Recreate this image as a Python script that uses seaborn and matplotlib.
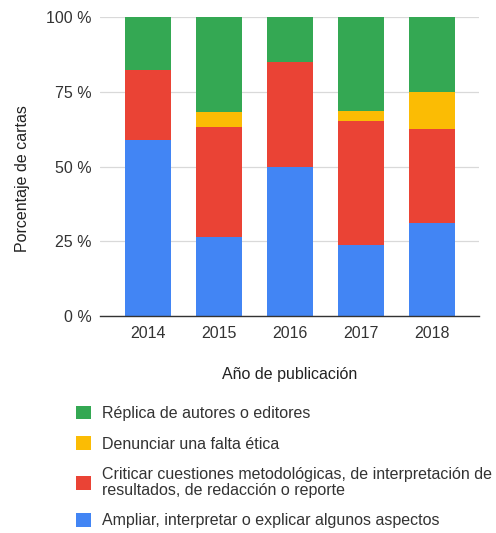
import numpy as np
import pandas as pd
import matplotlib
matplotlib.use("Agg")
import matplotlib.pyplot as plt
from matplotlib.patches import Patch
import seaborn as sns

years = ["2014", "2015", "2016", "2017", "2018"]
ampliar = [58.8, 26.3, 50.0, 23.7, 31.25]
criticar = [23.6, 36.8, 35.0, 41.6, 31.25]
denunciar = [0.0, 5.3, 0.0, 3.4, 12.5]
replica = [17.6, 31.6, 15.0, 31.3, 25.0]

series_names = [
    "Ampliar, interpretar o explicar algunos aspectos",
    "Criticar cuestiones metodológicas, de interpretación de\nresultados, de redacción o reporte",
    "Denunciar una falta ética",
    "Réplica de autores o editores",
]
colors = ["#4285F4", "#EA4335", "#FBBC04", "#34A853"]

sns.set_theme(style="white")
plt.rcParams["font.family"] = ["Liberation Sans", "DejaVu Sans"]
fs = 11.5

df = pd.DataFrame({
    "year": years,
    "ampliar": ampliar,
    "criticar": criticar,
    "denunciar": denunciar,
    "replica": replica,
})
cols = ["ampliar", "criticar", "denunciar", "replica"]
cum = df[cols].cumsum(axis=1)

fig = plt.figure(figsize=(4.96, 5.33), dpi=100)
ax = fig.add_axes([0.2016, 0.4071, 0.7641, 0.5609])

# draw cumulative totals from the top down so each layer shows through
for col, color in reversed(list(zip(cols, colors))):
    sns.barplot(x=df["year"], y=cum[col], color=color, width=0.65,
                saturation=1, linewidth=0, edgecolor="none", ax=ax, zorder=2)

ax.set_ylim(0, 100)
ax.set_xlim(-0.68, 4.66)
ax.set_yticks([0, 25, 50, 75, 100])
ax.set_yticklabels(["0 %", "25 %", "50 %", "75 %", "100 %"])
ax.yaxis.grid(True, color="#d9d9d9", linewidth=0.9, zorder=0)
ax.set_axisbelow(True)
for side in ["top", "right", "left"]:
    ax.spines[side].set_visible(False)
ax.spines["bottom"].set_color("#333333")
ax.spines["bottom"].set_linewidth(1.0)
ax.tick_params(axis="y", length=0, labelsize=fs, colors="#333333", pad=6)
ax.tick_params(axis="x", length=0, labelsize=fs, colors="#333333", pad=7)
ax.set_xlabel("Año de publicación", fontsize=fs, color="#222222", labelpad=19)
ax.set_ylabel("Porcentaje de cartas", fontsize=fs, color="#222222")
ax.yaxis.set_label_coords(-0.185, 0.46)

handles = [Patch(facecolor=c, edgecolor="none") for c in reversed(colors)]
labels = list(reversed(series_names))
leg = fig.legend(handles, labels, loc="upper left", bbox_to_anchor=(0.153, 0.239),
                 frameon=False, fontsize=fs, handlelength=0.95, handleheight=0.95,
                 handletextpad=0.7, labelspacing=0.95, labelcolor="#333333",
                 borderaxespad=0, borderpad=0)
for t in leg.get_texts():
    t.set_linespacing(1.1)

fig.savefig("out.png", dpi=100)
